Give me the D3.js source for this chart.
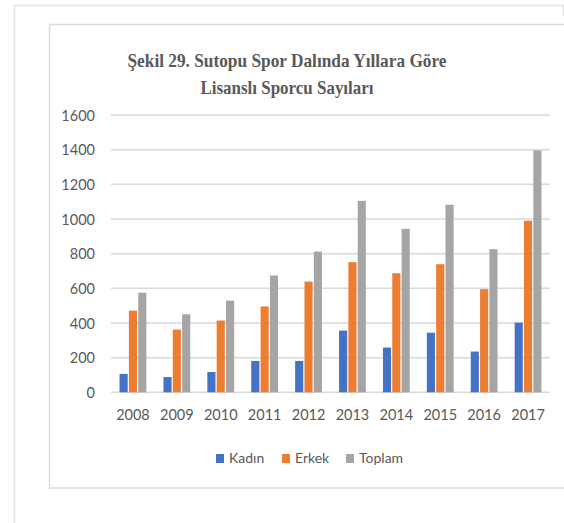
<!DOCTYPE html>
<html><head><meta charset="utf-8">
<script src="https://cdn.jsdelivr.net/npm/d3@7"></script>
<style>body{margin:0;background:#fff}svg{display:block}</style>
</head><body>
<script>
const years = ["2008","2009","2010","2011","2012","2013","2014","2015","2016","2017"];
const kadin  = [106, 88, 117, 181, 181, 356, 258, 344, 235, 402];
const erkek  = [471, 362, 414, 495, 639, 751, 687, 739, 595, 990];
const toplam = [575, 450, 529, 674, 812, 1105, 943, 1082, 826, 1396];
const seriesNames = ["Kadın","Erkek","Toplam"];
const colors = ["#4472C4","#ED7D31","#A5A5A5"];
const yTicks = [0,200,400,600,800,1000,1200,1400,1600];
const titleLines = ["Şekil 29. Sutopu Spor Dalında Yıllara Göre","Lisanslı Sporcu Sayıları"];

const W=564,H=523;
const svg=d3.select("body").append("svg").attr("width",W).attr("height",H);
// frames
svg.append("path").attr("d","M14.5,523 V5.5 H563.5 V16").attr("fill","none").attr("stroke","#E3E3E3").attr("stroke-width",1.5);
svg.append("rect").attr("x",49.5).attr("y",24.5).attr("width",530).attr("height",463.5).attr("fill","none").attr("stroke","#DCDCDC").attr("stroke-width",1.5);

// title
svg.selectAll("text.title").data(titleLines).join("text").attr("class","title")
  .attr("x",287).attr("y",(d,i)=>67+i*27).attr("text-anchor","middle")
  .attr("font-family","Liberation Serif").attr("font-weight","bold").attr("font-size",19.5)
  .attr("fill","#595959")
  .attr("textLength",(d,i)=>i===0?319:173).attr("lengthAdjust","spacingAndGlyphs")
  .text(d=>d);

const x0=d3.scaleBand().domain(years).range([111,550]).paddingInner(0).paddingOuter(0);
const y=d3.scaleLinear().domain([0,1600]).range([392.3,115]);
const x1=d3.scaleBand().domain(seriesNames).range([0,28]).padding(0);

// grid
svg.append("g").selectAll("line").data(yTicks).join("line")
  .attr("x1",111).attr("x2",550).attr("y1",d=>y(d)).attr("y2",d=>y(d))
  .attr("stroke","#D9D9D9").attr("stroke-width",1.5);

// y axis labels
const yAxis=d3.axisLeft(y).tickValues(yTicks).tickSize(0).tickPadding(0).tickFormat(d3.format("d"));
const ga=svg.append("g").attr("transform","translate(95,0)").call(yAxis);
ga.select(".domain").remove();
ga.selectAll("text").attr("font-family","Lato").attr("font-size",14.5).attr("fill","#595959").attr("dy","0.35em");

// bars
const data=[kadin,erkek,toplam];
const groups=svg.append("g").selectAll("g").data(years).join("g")
  .attr("transform",d=>`translate(${x0(d)+x0.bandwidth()/2-14},0)`);
groups.selectAll("rect").data((d,i)=>seriesNames.map((s,j)=>({s,v:data[j][i],c:colors[j]}))).join("rect")
  .attr("x",d=>x1(d.s)+0.6).attr("width",x1.bandwidth()-1.2)
  .attr("y",d=>y(d.v)).attr("height",d=>y(0)-y(d.v))
  .attr("fill",d=>d.c);

// x axis labels
const xAxis=d3.axisBottom(x0).tickSize(0).tickPadding(0);
const gx=svg.append("g").attr("transform","translate(0,410)").call(xAxis);
gx.select(".domain").remove();
gx.selectAll("text").attr("font-family","Lato").attr("font-size",14.5).attr("fill","#595959").attr("dy","0.71em");

// legend
const legX=[216,282,346];
const lg=svg.append("g").selectAll("g").data(seriesNames).join("g")
  .attr("transform",(d,i)=>`translate(${legX[i]},454)`);
lg.append("rect").attr("width",8).attr("height",9).attr("fill",(d,i)=>colors[i]);
lg.append("text").attr("x",13).attr("y",9).attr("font-family","Lato").attr("font-size",14).attr("fill","#595959").text(d=>d);
</script>
</body></html>
